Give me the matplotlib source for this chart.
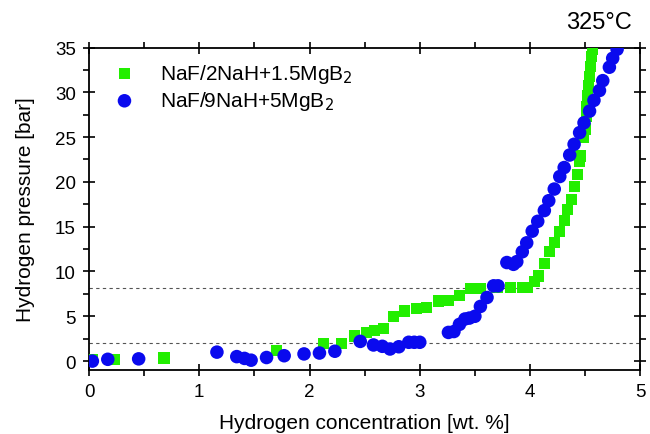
import numpy as np
import matplotlib.pyplot as plt
from matplotlib.ticker import MultipleLocator

plt.rcParams['font.family'] = ['Liberation Sans', 'DejaVu Sans']

# NaF/2NaH+1.5MgB2 (green squares)
x_green = [0.03, 0.23, 0.68, 1.70, 2.13, 2.29, 2.41, 2.52, 2.59, 2.67, 2.76, 2.86,
           2.97, 3.06, 3.17, 3.26, 3.36, 3.46, 3.55, 3.70, 3.82, 3.93, 3.98, 4.04,
           4.08, 4.13, 4.18, 4.22, 4.27, 4.31, 4.34, 4.38, 4.40, 4.43, 4.45, 4.46,
           4.48, 4.50, 4.51, 4.51, 4.52, 4.53, 4.54, 4.55, 4.56, 4.57]
y_green = [0.2, 0.2, 0.35, 1.2, 2.0, 2.0, 2.8, 3.2, 3.4, 3.6, 5.0, 5.6,
           5.9, 6.0, 6.7, 6.8, 7.3, 8.1, 8.1, 8.2, 8.2, 8.2, 8.2, 8.9,
           9.5, 10.9, 12.2, 13.2, 14.5, 15.7, 16.9, 18.0, 19.5, 20.8, 22.3, 22.9,
           25.0, 25.9, 27.3, 28.4, 29.6, 30.7, 31.8, 32.9, 34.0, 34.8]

# NaF/9NaH+5MgB2 (blue circles)
x_blue = [0.03, 0.17, 0.45, 1.16, 1.34, 1.41, 1.47, 1.61, 1.77, 1.95, 2.09, 2.23,
          2.46, 2.58, 2.66, 2.73, 2.81, 2.90, 2.95, 3.00, 3.26, 3.31, 3.36, 3.41,
          3.45, 3.50, 3.55, 3.61, 3.67, 3.71, 3.79, 3.85, 3.88, 3.93, 3.97, 4.02,
          4.07, 4.13, 4.17, 4.22, 4.27, 4.31, 4.36, 4.40, 4.45, 4.49, 4.54, 4.58,
          4.63, 4.66, 4.72, 4.75, 4.79]
y_blue = [0.0, 0.2, 0.25, 1.0, 0.5, 0.3, 0.1, 0.4, 0.6, 0.8, 0.9, 1.1,
          2.2, 1.8, 1.65, 1.35, 1.6, 2.1, 2.1, 2.1, 3.2, 3.3, 4.1, 4.7,
          4.8, 5.0, 6.1, 7.1, 8.4, 8.4, 11.0, 10.8, 11.1, 12.2, 13.2, 14.5,
          15.6, 16.8, 17.9, 19.2, 20.6, 21.6, 23.0, 24.2, 25.5, 26.6, 27.9, 29.1,
          30.2, 31.3, 32.8, 33.8, 34.8]

plateaus = [8.15, 2.0]

fig = plt.figure(figsize=(6.5, 4.35), dpi=100)
ax = fig.add_axes([0.137, 0.147, 0.848, 0.7415])

for p in plateaus:
    ax.axhline(p, color='#555555', lw=0.8, ls=(0, (3, 3)), zorder=1)

ax.scatter(x_green, y_green, marker='s', s=65, color='#22ee00', edgecolors='none',
           label='NaF/2NaH+1.5MgB$_2$', zorder=3)
ax.scatter(x_blue, y_blue, marker='o', s=95, color='#0a0aee', edgecolors='none',
           label='NaF/9NaH+5MgB$_2$', zorder=4)

ax.set_xlim(0, 5)
ax.set_ylim(-1, 35)
ax.xaxis.set_major_locator(MultipleLocator(1))
ax.xaxis.set_minor_locator(MultipleLocator(0.5))
ax.yaxis.set_major_locator(MultipleLocator(5))
ax.yaxis.set_minor_locator(MultipleLocator(2.5))
ax.tick_params(which='major', direction='inout', length=9, width=1.2,
               top=True, right=True, labelsize=13.5, pad=5)
ax.tick_params(which='minor', direction='out', length=4, width=1.2,
               top=True, right=True)
for s in ax.spines.values():
    s.set_linewidth(1.3)

ax.set_xlabel('Hydrogen concentration [wt. %]', fontsize=15, labelpad=9)
ax.set_ylabel('Hydrogen pressure [bar]', fontsize=15, labelpad=14)
ax.text(0.985, 1.06, '325°C', transform=ax.transAxes, ha='right', va='baseline', fontsize=17)

ax.legend(loc='upper left', frameon=False, fontsize=15, handletextpad=0.7,
          borderaxespad=0.3, labelspacing=0.2, bbox_to_anchor=(0.0, 1.0))

fig.savefig('out.png', dpi=100)
